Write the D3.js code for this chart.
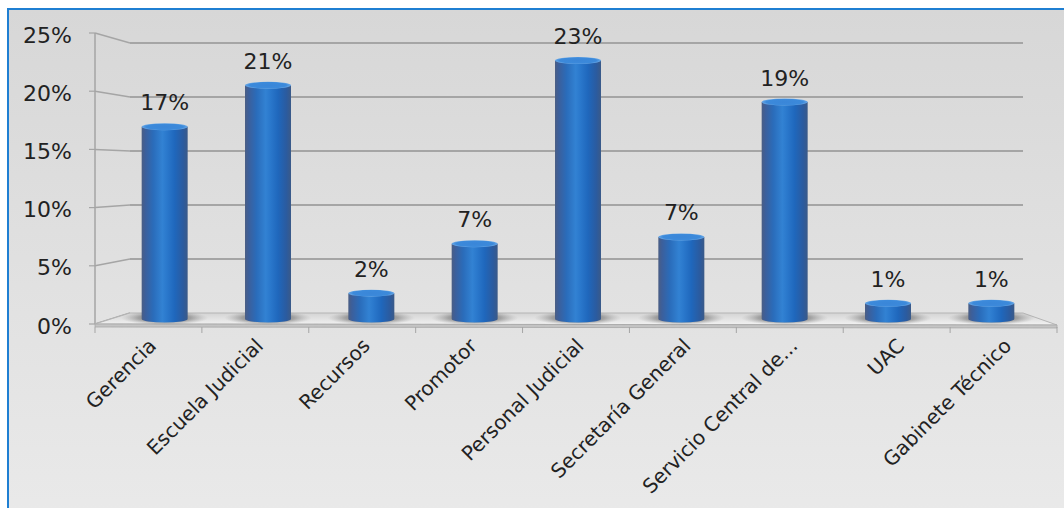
<!DOCTYPE html>
<html><head><meta charset="utf-8">
<script src="https://cdn.jsdelivr.net/npm/d3@7/dist/d3.min.js"></script>
<style>html,body{margin:0;padding:0;background:#fff;}svg{display:block;}</style>
</head><body>
<svg id="c" width="1064" height="508"></svg>
<script>
const categories = ["Gerencia","Escuela Judicial","Recursos","Promotor","Personal Judicial","Secretaría General","Servicio Central de...","UAC","Gabinete Técnico"];
const values = [17.1, 20.8, 2.3, 6.7, 23.0, 7.3, 19.3, 1.4, 1.4];
const valueLabels = ["17%","21%","2%","7%","23%","7%","19%","1%","1%"];
const yTicks = [0,5,10,15,20,25];

const svg = d3.select("#c");
const defs = svg.append("defs");
const FONT = "'DejaVu Sans', Verdana, sans-serif";

const bg = defs.append("linearGradient").attr("id","bg").attr("x1",0).attr("y1",0).attr("x2",0).attr("y2",1);
bg.append("stop").attr("offset","0%").attr("stop-color","#d7d7d7");
bg.append("stop").attr("offset","60%").attr("stop-color","#e4e4e4");
bg.append("stop").attr("offset","100%").attr("stop-color","#ededed");

const barG = defs.append("linearGradient").attr("id","bar").attr("x1",0).attr("y1",0).attr("x2",1).attr("y2",0);
[["0%","#4b5e84"],["8%","#3c5f9b"],["25%","#2a6cba"],["45%","#3282d3"],["55%","#2a78cc"],["72%","#1f67bc"],["90%","#2b5b9f"],["100%","#3b5a88"]]
  .forEach(([o,c])=>barG.append("stop").attr("offset",o).attr("stop-color",c));
const capG = defs.append("radialGradient").attr("id","cap");
capG.append("stop").attr("offset","0%").attr("stop-color","#3a86d8");
capG.append("stop").attr("offset","80%").attr("stop-color","#3c8adb");
capG.append("stop").attr("offset","100%").attr("stop-color","#6aa8e6");
const shG = defs.append("radialGradient").attr("id","sh");
shG.append("stop").attr("offset","0%").attr("stop-color","#333").attr("stop-opacity",0.75);
shG.append("stop").attr("offset","60%").attr("stop-color","#555").attr("stop-opacity",0.45);
shG.append("stop").attr("offset","100%").attr("stop-color","#888").attr("stop-opacity",0);
const flG = defs.append("linearGradient").attr("id","fl").attr("x1",0).attr("y1",0).attr("x2",0).attr("y2",1);
flG.append("stop").attr("offset","0%").attr("stop-color","#d4d4d4");
flG.append("stop").attr("offset","100%").attr("stop-color","#f2f2f2");

svg.append("rect").attr("x",8).attr("y",9).attr("width",1100).attr("height",600)
  .attr("fill","url(#bg)").attr("stroke","#1f7fd2").attr("stroke-width",2);

const yFront = d3.scaleLinear().domain([0,25]).range([324,33]);
const yBack  = d3.scaleLinear().domain([0,25]).range([313,43]);
const yBar   = d3.scaleLinear().domain([0,25]).range([319,38]);
const xFront = d3.scaleBand().domain(categories).range([95,1057]);
const xBar   = d3.scaleBand().domain(categories).range([113,1043]);
const backL = 130, backR = 1023, frontL = 95, frontR = 1057;
const grid = "#a5a5a5";

const gw = svg.append("g");
yTicks.forEach(v=>{
  if (v>0) gw.append("line").attr("x1",backL).attr("x2",backR).attr("y1",yBack(v)).attr("y2",yBack(v))
    .attr("stroke",grid).attr("stroke-width",2);
  gw.append("line").attr("x1",frontL).attr("y1",yFront(v)).attr("x2",backL).attr("y2",yBack(v))
    .attr("stroke",grid).attr("stroke-width",1.5);
  gw.append("line").attr("x1",frontL-6).attr("x2",frontL).attr("y1",yFront(v)).attr("y2",yFront(v))
    .attr("stroke",grid).attr("stroke-width",1.2);
});
gw.append("line").attr("x1",frontL).attr("x2",frontL).attr("y1",yFront(25)).attr("y2",yFront(0))
  .attr("stroke",grid).attr("stroke-width",1.5);

const fy0 = yBack(0), fy1 = yFront(0);
svg.append("path").attr("d",`M${frontL},${fy1} L${backL},${fy0} L${backR},${fy0} L${frontR},${fy1+1} Z`)
  .attr("fill","url(#fl)").attr("stroke","#b5b5b5").attr("stroke-width",1);
svg.append("path").attr("d",`M${frontL},${fy1} L${frontR},${fy1+1} L${frontR},${fy1+4} L${frontL},${fy1+3} Z`)
  .attr("fill","#c4c4c4").attr("stroke","#a8a8a8").attr("stroke-width",0.8);

const ticksX = categories.map(c=>xFront(c)).concat([frontR]);
svg.append("g").selectAll("line").data(ticksX).join("line")
  .attr("x1",d=>d).attr("x2",d=>d).attr("y1",fy1+3).attr("y2",fy1+9)
  .attr("stroke",grid).attr("stroke-width",1);

const bw = 46, ry = 3.5;
const bars = svg.append("g").selectAll("g").data(values).join("g")
  .attr("transform",(d,i)=>`translate(${xBar(categories[i])+xBar.bandwidth()/2},0)`);
bars.append("ellipse").attr("cx",0).attr("cy",318).attr("rx",bw*0.95).attr("ry",7).attr("fill","url(#sh)");
bars.append("path").attr("d",d=>{
  const t=yBar(d), b=yBar(0);
  return `M${-bw/2},${t} L${-bw/2},${b} A${bw/2},${ry} 0 0 0 ${bw/2},${b} L${bw/2},${t} Z`;
}).attr("fill","url(#bar)");
bars.append("ellipse").attr("cx",0).attr("cy",d=>yBar(d)).attr("rx",bw/2).attr("ry",ry)
  .attr("fill","url(#cap)");

svg.append("g").selectAll("text").data(values).join("text")
  .attr("x",(d,i)=>xBar(categories[i])+xBar.bandwidth()/2)
  .attr("y",d=>yBar(d)-ry-13)
  .attr("text-anchor","middle").attr("font-family",FONT).attr("font-size",22).attr("fill","#222")
  .text((d,i)=>valueLabels[i]);

svg.append("g").selectAll("text").data(yTicks).join("text")
  .attr("x",72).attr("y",d=>yFront(d)+2).attr("dominant-baseline","central")
  .attr("text-anchor","end").attr("font-family",FONT).attr("font-size",22).attr("fill","#222")
  .text(d=>d+"%");

svg.append("g").selectAll("text").data(categories).join("text")
  .attr("transform",c=>`translate(${xFront(c)+xFront.bandwidth()/2+9},${fy1+23}) rotate(-45)`)
  .attr("text-anchor","end").attr("font-family",FONT).attr("font-size",20).attr("fill","#222")
  .text(c=>c);
</script>
</body></html>
